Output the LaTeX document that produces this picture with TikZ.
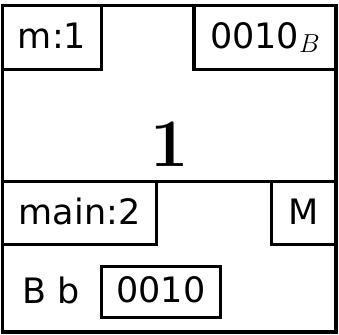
\RequirePackage{fix-cm}
\documentclass[tikz,border=0pt]{standalone}
\usepackage{fontspec}
\setsansfont{DejaVu Sans}
\begin{document}
\begin{tikzpicture}[x=1pt,y=1pt,
  frame/.style={draw,line width=3.2pt,inner sep=0pt,outer sep=0pt,anchor=north west},
  txt/.style={font=\sffamily\fontsize{35}{40}\selectfont,text height=22pt,text depth=0pt}]
\useasboundingbox (0,0) rectangle (339,334);
% two stacked panels
\node[frame,minimum width=333.2pt,minimum height=176.2pt] (upper) at (2.8,328.5) {};
\node[frame,minimum width=333.2pt,minimum height=150.3pt] (lower) at (2.8,152.3) {};
% header fields of the upper panel
\node[frame,txt,minimum width=98.5pt,minimum height=63.7pt] (mone) at (2.8,328.5) {m:1};
\node[frame,txt,minimum width=142pt,minimum height=63.7pt] (tag) at (194,328.5)
  {0010\raisebox{-4pt}{\fontsize{26}{30}\selectfont$B$}};
% the value
\node[anchor=base,font=\bfseries\fontsize{68}{80}\selectfont] (val) at (169.5,167) {1};
% header fields of the lower panel
\node[frame,txt,minimum width=153.5pt,minimum height=63pt] (main) at (2.8,152.3) {main:2};
\node[frame,txt,minimum width=64.7pt,minimum height=63pt] (mode) at (271.3,152.3) {M};
% variable row
\node[txt,anchor=base,text height=,text depth=] (var) at (51,31) {B b};
\node[frame,txt,minimum width=119.5pt,minimum height=51pt] (bits) at (101.2,67.7) {0010};
\end{tikzpicture}
\end{document}
